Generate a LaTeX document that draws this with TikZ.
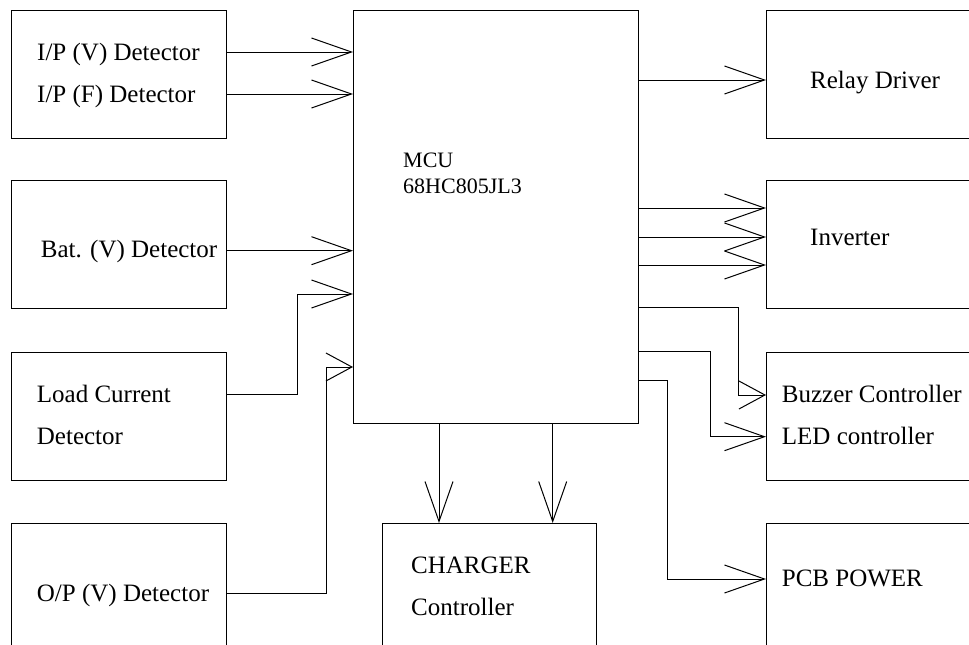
\documentclass[tikz,border=0pt]{standalone}
\usepackage{fontspec}
\setmainfont{Liberation Serif}
\usetikzlibrary{arrows.meta, positioning, calc}
\tikzset{
  blockbox/.style={draw, line width=1.2pt, minimum width=215pt,
    minimum height=128pt, anchor=north west, inner sep=0pt},
  mcubox/.style={draw, line width=1.2pt, minimum width=284.5pt,
    minimum height=413pt, anchor=north west, inner sep=0pt},
  blocktext/.style={anchor=base west, align=left, inner sep=0pt,
    font=\fontsize{25}{42}\selectfont},
  mcutext/.style={anchor=base west, align=left, inner sep=0pt,
    font=\fontsize{22}{26}\selectfont},
  sigarrow/.style={-{Straight Barb[length=40pt, width=28pt]}, line width=1pt},
  shortarrow/.style={-{Straight Barb[length=26pt, width=28pt]}, line width=1pt}
}
\begin{document}
\begin{tikzpicture}[x=1pt, y=-1pt]
  \useasboundingbox (0,0) rectangle (969,645);
  \clip (0,0) rectangle (969,645);

  %% Left column: detectors
  \node[blockbox] (ipbox) at (10.5,9.5) {};
  \node[blockbox] (batbox) at (10.5,180) {};
  \node[blockbox] (loadbox) at (10.5,352) {};
  \node[blockbox] (opbox) at (10.5,523) {};

  %% MCU and charger
  \node[mcubox] (mcu) at (353,9.5) {};
  \node[blockbox, minimum width=214pt] (chgbox) at (381.5,523) {};

  %% Right column: drivers
  \node[blockbox] (relaybox) at (766,9.5) {};
  \node[blockbox] (invbox) at (766,180) {};
  \node[blockbox] (buzzbox) at (766,352) {};
  \node[blockbox] (pcbbox) at (766,523) {};

  %% Labels (multi-line ones sit on their last baseline)
  \node[blocktext] (iplabel) at (37,102) {I/P (V) Detector\\I/P (F) Detector};
  \node[blocktext] (batlabel) at (40.7,257) {Bat. (V) Detector};
  \node[blocktext] (loadlabel) at (36.7,444) {Load Current\\Detector};
  \node[blocktext] (oplabel) at (36.7,601.7) {O/P (V) Detector};
  \node[mcutext] (mculabel) at (403,193) {MCU\\68HC805JL3};
  \node[blocktext] (chglabel) at (411,615) {CHARGER\\Controller};
  \node[blocktext] (relaylabel) at (810,88) {Relay Driver};
  \node[blocktext] (invlabel) at (810,245) {Inverter};
  \node[blocktext] (buzzlabel) at (781.7,444) {Buzzer Controller\\LED controller};
  \node[blocktext] (pcblabel) at (781.7,586.7) {PCB POWER};

  %% Inputs to MCU
  \draw[sigarrow] (ipbox.east |- 0,52) -- (mcu.west |- 0,52);
  \draw[sigarrow] (ipbox.east |- 0,94) -- (mcu.west |- 0,94);
  \draw[sigarrow] (batbox.east |- 0,250.7) -- (mcu.west |- 0,250.7);
  \draw[sigarrow] (loadbox.east |- 0,394) -- ++(71,0) |- (mcu.west |- 0,294);
  \draw[shortarrow] (opbox.east |- 0,593) -- ++(99.5,0) |- (mcu.west |- 0,367);

  %% MCU outputs
  \draw[sigarrow] (mcu.east |- 0,80) -- (relaybox.west |- 0,80);
  \foreach \yy in {208,237,265}
    \draw[sigarrow] (mcu.east |- 0,\yy) -- (invbox.west |- 0,\yy);
  \draw[shortarrow] (mcu.east |- 0,307.3) -- ++(100,0) |- (buzzbox.west |- 0,395);
  \draw[sigarrow] (mcu.east |- 0,351.7) -- ++(71.5,0) |- (buzzbox.west |- 0,436.7);
  \draw[sigarrow] (mcu.east |- 0,380) -- ++(29,0) |- (pcbbox.west |- 0,579);
  \foreach \xx in {439,552.7}
    \draw[sigarrow] (mcu.south -| \xx,0) -- (chgbox.north -| \xx,0);

\end{tikzpicture}
\end{document}
